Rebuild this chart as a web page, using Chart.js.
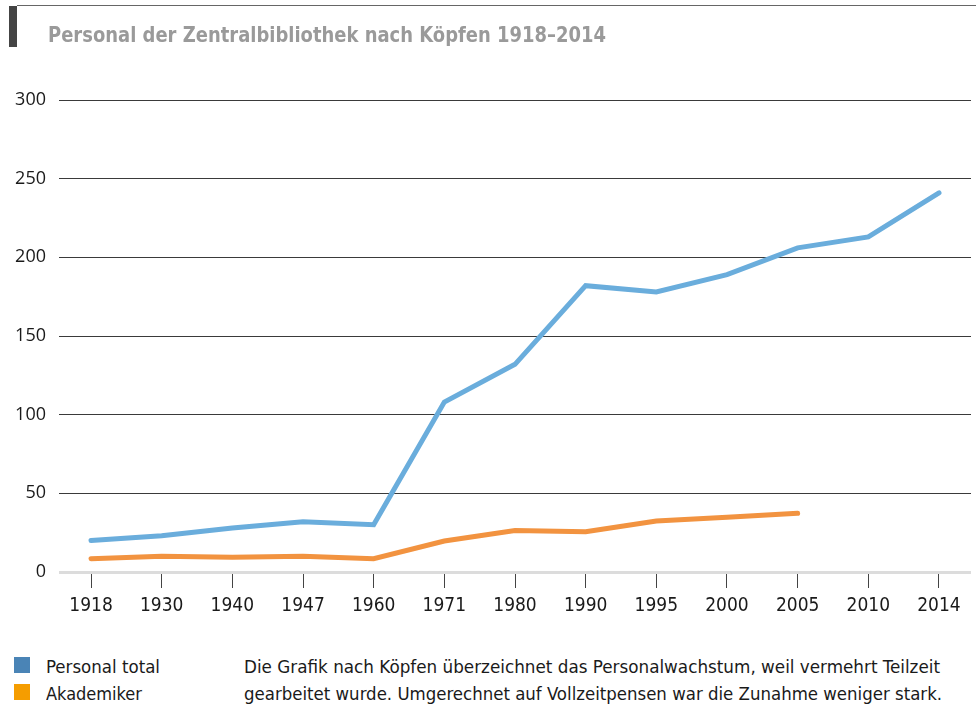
<!DOCTYPE html>
<html>
<head>
<meta charset="utf-8">
<script src="https://cdn.jsdelivr.net/npm/chart.js@4"></script>
<style>
  html, body { margin: 0; padding: 0; background: #fff; width: 976px; height: 708px; overflow: hidden; }
  #wrap { position: relative; width: 976px; height: 708px; }
  #chart { position: absolute; left: 0; top: 0; }
  .fit { position: absolute; white-space: nowrap; transform-origin: 0 50%; font-family: "Liberation Sans Narrow", "DejaVu Sans Condensed", "Open Sans", sans-serif; }
  #bar { position: absolute; left: 9px; top: 6px; width: 8px; height: 41px; background: #444; }
  #topline { position: absolute; left: 17px; top: 5px; width: 959px; height: 1px; background: #666; }
  #title { left: 48px; top: 22px; font-size: 22px; font-weight: bold; color: #9a9a9a; line-height: 26px; }
  .sq { position: absolute; left: 14px; width: 16px; height: 16px; }
  .leg { left: 46px; font-size: 18px; color: #1a1a1a; line-height: 22px; }
  .note { left: 244px; font-size: 18px; color: #1a1a1a; line-height: 22px; }
</style>
</head>
<body>
<div id="wrap">
  <canvas id="chart" width="976" height="640"></canvas>
  <div id="topline"></div>
  <div id="bar"></div>
  <div id="title" class="fit" data-w="558">Personal der Zentralbibliothek nach Köpfen 1918–2014</div>
  <div class="sq" style="top:657px;background:#4a84b6;"></div>
  <div class="sq" style="top:684px;background:#f59d00;"></div>
  <div class="fit leg" style="top:656px;" data-w="114">Personal total</div>
  <div class="fit leg" style="top:683px;" data-w="96">Akademiker</div>
  <div class="fit note" style="top:656px;" data-w="696">Die Grafik nach Köpfen überzeichnet das Personalwachstum, weil vermehrt Teilzeit</div>
  <div class="fit note" style="top:683px;" data-w="698">gearbeitet wurde. Umgerechnet auf Vollzeitpensen war die Zunahme weniger stark.</div>
</div>
<script>
// ---- Data ----
const years = ["1918", "1930", "1940", "1947", "1960", "1971", "1980", "1990", "1995", "2000", "2005", "2010", "2014"];
const personalTotal = [20, 23, 28, 32, 30, 108, 132, 182, 178, 189, 206, 213, 241];
const akademiker = [8.5, 10, 9.3, 10, 8.5, 19.7, 26.3, 25.6, 32.4, 34.8, 37.3, null, null];
const yTicks = [0, 50, 100, 150, 200, 250, 300];
const seriesNames = ["Personal total", "Akademiker"];

// fit text widths
document.querySelectorAll('.fit').forEach(el => {
  const target = parseFloat(el.dataset.w);
  const w = el.getBoundingClientRect().width;
  if (w > 0) el.style.transform = 'scaleX(' + (target / w) + ')';
});

function toPoints(arr) {
  return arr.map((v, i) => (v === null ? null : { x: i, y: v })).filter(p => p !== null);
}

const xPad = 0.453;
new Chart(document.getElementById('chart'), {
  type: 'line',
  data: {
    datasets: [
      { label: seriesNames[0], data: toPoints(personalTotal), borderColor: '#6aaddc', borderWidth: 5, pointRadius: 0, tension: 0, borderCapStyle: 'round', borderJoinStyle: 'miter' },
      { label: seriesNames[1], data: toPoints(akademiker), borderColor: '#f29340', borderWidth: 5, pointRadius: 0, tension: 0, borderCapStyle: 'round', borderJoinStyle: 'miter' }
    ]
  },
  options: {
    responsive: false,
    animation: false,
    layout: { padding: { top: 100, right: 5, left: 0, bottom: 0 } },
    plugins: { legend: { display: false }, title: { display: false }, tooltip: { enabled: false } },
    scales: {
      x: {
        type: 'linear',
        min: -xPad,
        max: years.length - 1 + xPad,
        afterBuildTicks: s => { s.ticks = years.map((y, i) => ({ value: i })); },
        afterFit: s => { s.height = 68; },
        border: { display: false },
        grid: { drawOnChartArea: false, drawTicks: true, tickLength: 16, color: '#444', lineWidth: 1 },
        ticks: {
          callback: v => years[v],
          padding: 7,
          maxRotation: 0,
          autoSkip: false,
          color: '#1a1a1a',
          font: { family: '"Liberation Sans Narrow", "DejaVu Sans Condensed", "Open Sans", sans-serif', size: 19 }
        }
      },
      y: {
        min: 0,
        max: 300,
        afterBuildTicks: s => { s.ticks = yTicks.map(v => ({ value: v })); },
        afterFit: s => { s.width = 59; },
        border: { display: false },
        grid: {
          drawTicks: false,
          color: c => (c.tick && c.tick.value === 0 ? '#dcdcdc' : '#3a3a3a'),
          lineWidth: c => (c.tick && c.tick.value === 0 ? 3 : 1)
        },
        ticks: {
          padding: 13,
          color: '#1a1a1a',
          font: { family: '"Open Sans", sans-serif', size: 18 }
        }
      }
    }
  }
});
</script>
</body>
</html>
